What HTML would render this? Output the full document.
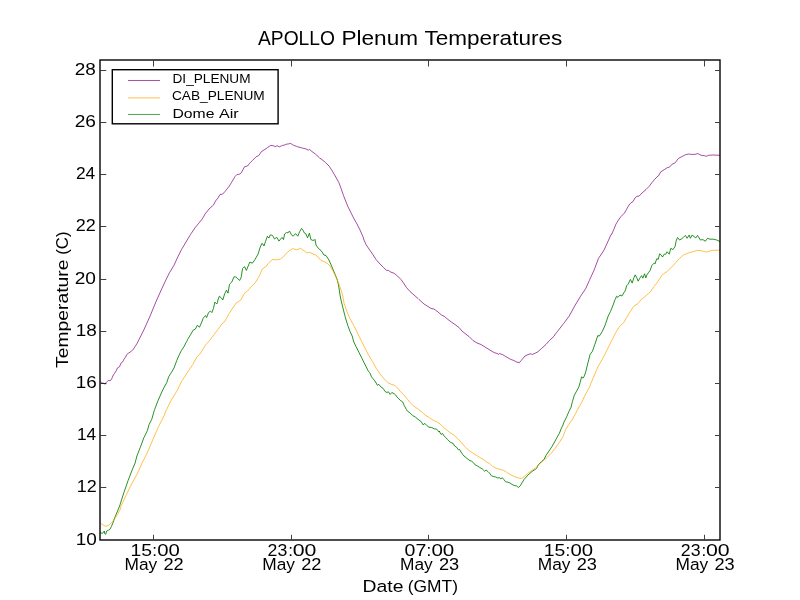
<!DOCTYPE html>
<html><head><meta charset="utf-8"><style>html,body{margin:0;padding:0;background:#fff;width:800px;height:600px;overflow:hidden}svg{display:block;will-change:transform}</style></head>
<body><svg width="800" height="600" viewBox="0 0 800 600"><rect width="800" height="600" fill="#fff"/><defs><clipPath id="c"><rect x="100" y="60" width="620" height="480"/></clipPath></defs><g clip-path="url(#c)" fill="none" stroke-width="0.7" stroke-linejoin="round"><polyline stroke="#008000" stroke-width="0.85" points="99.0,533.0 101.0,533.0 102.7,533.3 104.3,531.0 104.7,533.7 105.7,534.3 106.7,531.0 108.3,530.3 110.0,529.3 111.3,526.7 113.0,522.7 114.3,519.0 116.0,514.7 118.0,510.0 120.0,505.0 120.2,504.1 123.8,492.8 128.1,480.5 132.5,469.1 135.1,463.0 136.9,456.0 140.4,447.2 143.9,437.6 147.4,430.6 149.1,424.5 151.8,419.2 153.5,413.1 154.5,409.8 154.7,409.3 158.0,400.7 162.7,390.0 166.7,382.7 168.7,376.7 171.3,372.7 174.0,368.0 176.7,360.7 178.7,356.0 181.3,350.7 184.0,346.7 186.0,342.7 187.3,340.5 187.5,339.6 190.5,334.8 193.1,330.2 195.4,329.1 197.2,325.4 199.5,327.2 201.8,322.0 203.2,318.2 205.5,315.6 206.6,317.5 208.5,312.6 210.4,311.1 211.9,312.6 213.4,308.5 214.9,302.1 216.8,304.0 217.5,302.5 217.9,300.0 219.4,296.2 221.2,297.8 222.8,300.0 224.6,294.0 226.5,290.2 228.0,293.2 229.5,284.2 231.8,282.0 234.0,276.8 235.5,276.8 237.0,277.9 239.6,280.5 241.1,277.5 242.6,268.5 244.5,266.6 246.4,270.4 249.8,262.1 252.4,263.2 255.0,259.5 258.0,254.2 259.9,248.2 261.8,243.4 262.9,244.1 264.0,246.0 265.5,241.5 267.4,236.2 268.9,238.1 270.4,234.8 272.6,235.5 274.5,238.9 276.8,237.4 279.0,241.1 280.5,239.2 282.0,237.4 283.5,239.6 284.6,234.0 286.5,232.5 288.0,232.9 289.5,231.0 291.4,234.8 293.2,236.2 295.5,233.6 297.8,236.2 299.6,231.8 301.5,228.4 303.0,230.2 304.5,233.2 306.0,234.0 307.5,237.8 309.4,233.2 310.9,239.6 312.8,240.4 314.6,240.0 315.0,239.5 316.0,245.0 318.5,248.5 321.0,250.5 324.0,255.0 326.0,255.5 329.0,260.0 332.0,267.0 334.5,273.0 337.0,279.0 338.5,285.0 340.2,296.0 341.0,300.0 343.2,309.0 345.5,318.0 347.8,325.5 350.0,331.5 352.2,336.0 353.8,342.0 356.0,346.5 359.0,352.5 362.0,358.5 365.0,364.5 368.0,370.5 369.5,372.5 370.0,373.0 371.5,376.8 373.0,378.6 374.9,380.9 377.5,385.4 378.6,384.2 380.9,386.9 383.1,388.4 385.0,391.4 386.9,392.5 388.4,391.8 390.2,394.4 391.8,392.5 394.0,393.6 395.5,394.8 397.0,397.0 398.9,398.9 400.8,400.8 402.2,401.5 402.5,401.7 404.2,405.4 406.2,409.2 407.5,411.2 410.0,412.9 412.5,415.4 415.4,417.1 417.9,419.2 421.2,421.7 423.3,425.0 424.6,423.3 426.7,425.4 428.8,427.1 431.7,427.5 434.2,428.8 436.7,429.2 439.2,432.1 439.2,431.0 440.0,432.5 441.1,434.4 442.6,433.6 444.1,435.9 446.0,437.8 447.5,439.6 449.0,441.1 450.9,442.6 453.1,443.4 454.6,446.0 456.5,447.1 458.4,449.8 459.5,449.4 461.0,452.0 462.5,454.2 464.0,456.0 470.0,460.8 471.5,461.1 473.4,462.6 475.2,464.9 477.5,466.0 479.8,467.5 482.4,469.0 484.6,471.2 486.1,470.1 488.0,471.6 489.5,473.1 491.4,475.8 493.2,476.5 495.5,476.9 497.8,478.0 499.6,477.6 500.8,479.1 502.2,477.6 503.8,479.5 505.6,481.8 507.5,482.1 509.8,482.9 512.0,484.4 514.2,485.5 516.5,485.9 518.4,487.4 520.2,485.9 521.0,484.5 524.0,479.5 528.0,475.0 532.0,471.5 535.0,469.5 536.5,468.5 538.5,464.5 541.5,461.5 544.0,459.5 546.0,455.5 549.0,451.0 552.0,446.5 554.5,442.0 557.0,437.5 559.5,433.0 561.0,429.0 563.0,425.0 563.7,422.7 566.9,416.3 568.8,411.7 571.1,407.1 572.4,401.6 574.3,395.2 576.6,391.1 578.9,386.9 580.2,382.3 581.6,376.8 583.0,378.2 584.4,375.9 585.8,371.5 588.0,362.5 590.2,354.2 592.5,351.2 594.8,344.5 597.8,335.5 599.2,336.2 602.2,331.7 605.2,325.0 608.2,316.0 610.5,311.5 613.5,304.0 615.0,299.5 615.4,299.2 616.5,296.2 618.0,297.4 619.9,295.1 622.1,295.9 624.0,292.5 625.5,290.2 626.6,285.8 628.1,284.2 630.4,279.4 632.2,283.1 633.8,277.9 635.2,274.9 636.8,277.9 638.2,281.2 639.8,278.2 641.6,275.6 642.8,278.2 644.6,273.8 645.8,277.9 646.9,274.9 648.8,272.2 650.2,270.4 651.8,265.5 654.0,263.2 654.5,263.0 655.0,263.8 656.7,258.8 658.3,259.2 659.6,253.8 661.2,255.0 662.5,257.1 664.2,254.2 665.8,254.2 667.1,251.7 669.2,254.2 670.8,248.3 672.9,249.6 675.0,246.7 676.2,240.8 677.5,237.5 679.6,240.0 681.7,238.8 683.3,237.5 685.4,235.4 687.1,238.3 689.2,235.0 690.4,238.3 692.1,235.0 694.2,236.7 695.8,237.9 697.5,235.4 700.4,240.0 702.9,239.6 705.4,241.2 707.5,238.3 710.0,239.2 713.3,239.2 716.7,240.0 719.2,241.2 721.0,241.5"/><polyline stroke="#ffa500" stroke-width="0.7" points="99.0,523.0 100.0,523.0 102.7,524.7 105.7,526.3 108.7,525.3 111.7,522.7 114.7,518.7 117.3,514.7 120.0,510.0 121.0,506.2 122.0,504.1 126.4,494.5 131.6,484.0 136.9,474.4 142.1,463.0 147.4,452.5 152.6,440.2 157.9,428.0 164.9,414.0 165.0,412.5 166.7,409.3 171.3,400.0 176.7,391.3 182.0,380.7 187.3,372.7 192.7,364.7 196.7,357.3 200.0,354.0 205.6,344.9 210.0,340.0 214.5,334.0 219.0,328.0 222.0,323.9 225.0,321.2 229.2,313.4 236.0,303.2 240.8,300.0 244.5,293.2 247.5,291.0 252.0,285.8 255.0,283.1 258.5,277.4 262.5,268.8 265.5,267.0 268.5,263.2 272.2,259.5 275.2,259.9 280.5,259.1 283.5,256.5 287.2,252.4 292.5,248.6 297.0,249.8 300.4,248.2 303.0,250.1 306.8,252.8 309.8,252.4 314.2,254.6 315.0,254.6 317.0,256.0 321.0,260.5 324.0,261.5 328.0,264.0 330.0,266.0 333.0,271.0 336.0,277.0 338.5,283.0 341.0,290.0 342.5,294.5 344.0,303.0 347.0,312.0 350.0,318.7 353.8,325.5 357.5,333.0 361.2,340.5 365.0,348.0 368.8,355.5 372.5,361.5 376.4,368.6 379.8,373.5 383.5,378.2 388.0,382.8 391.0,384.2 394.8,385.4 398.5,389.1 400.0,391.2 403.3,394.2 406.7,398.3 410.0,402.5 413.3,405.8 418.3,409.2 422.5,412.5 425.0,415.0 429.2,417.5 433.3,420.4 436.7,421.7 440.0,423.8 441.5,425.4 445.2,428.8 449.8,432.5 453.5,434.8 458.0,438.9 461.8,443.0 465.5,447.5 470.0,451.2 472.2,452.5 476.0,455.1 479.8,457.4 483.5,459.6 486.9,462.2 489.5,463.4 492.5,466.4 496.2,468.2 500.0,469.4 503.8,470.5 507.5,472.8 511.2,475.0 515.0,476.9 518.8,478.0 521.0,478.4 522.5,477.8 523.0,477.5 527.0,474.0 531.0,471.0 535.0,468.5 539.0,464.5 543.0,461.0 547.0,457.5 551.0,453.5 555.0,448.5 559.0,443.0 563.0,436.5 565.6,429.6 568.8,424.5 572.0,420.0 575.2,414.4 577.9,409.0 581.6,402.5 584.8,395.6 590.0,386.2 590.2,385.0 594.0,376.0 597.8,367.0 602.2,359.5 606.8,350.5 611.2,341.5 615.8,332.5 619.5,326.5 623.8,322.5 628.8,313.8 633.8,306.2 638.0,303.5 641.2,299.6 645.8,295.9 651.0,291.0 654.0,286.5 657.0,282.8 660.0,278.2 662.5,274.6 667.5,271.2 672.5,266.2 675.8,262.5 679.2,258.8 683.3,255.0 687.5,253.3 692.5,251.7 697.5,250.4 701.7,250.8 706.2,252.1 711.7,250.4 719.2,250.2 721.0,250.2"/><polyline stroke="#800080" stroke-width="0.7" points="99.0,381.2 100.0,381.2 101.7,382.9 103.8,383.3 105.4,384.2 106.2,382.5 108.3,380.4 110.4,380.7 111.7,378.8 113.3,375.0 114.6,373.3 116.2,370.8 117.5,367.9 119.6,366.7 120.8,363.3 122.5,362.1 123.5,360.4 124.0,358.8 125.4,357.5 126.7,354.6 128.3,353.3 130.8,351.7 133.3,349.2 135.0,346.7 137.1,343.3 138.8,340.0 143.8,330.0 150.0,316.2 156.2,301.2 161.2,290.0 165.0,281.8 169.5,272.7 174.0,265.2 177.8,257.0 181.5,249.5 186.0,242.0 190.5,234.5 195.0,227.8 198.8,223.2 201.8,219.5 204.0,216.0 205.0,214.0 209.0,209.0 213.5,205.0 215.5,201.0 218.0,198.0 220.0,194.5 222.5,194.2 225.0,191.5 229.0,186.5 231.5,182.5 235.0,176.5 237.0,174.5 239.5,174.2 241.5,172.5 244.5,166.8 247.5,166.0 249.5,163.5 250.0,162.9 252.6,160.3 256.1,156.8 258.8,155.5 261.4,151.6 264.9,149.4 267.5,147.6 270.6,145.4 273.2,145.7 275.4,146.6 277.1,145.7 279.3,146.9 282.4,145.4 285.0,145.0 285.9,144.3 288.5,143.9 290.7,143.4 293.3,145.2 296.4,146.3 299.0,147.2 302.5,148.1 306.0,148.9 308.2,150.2 309.5,149.4 312.1,151.6 315.6,154.2 319.6,157.9 320.0,158.5 321.0,158.8 325.5,162.5 329.2,166.2 332.2,170.8 335.2,176.0 339.0,182.8 341.2,188.8 343.5,195.5 345.8,201.5 348.0,206.8 351.0,212.8 354.0,218.8 357.0,224.0 360.0,230.0 363.0,236.8 364.0,240.0 366.0,244.5 369.0,249.0 372.5,254.0 376.0,259.5 380.0,264.0 383.5,267.5 386.5,270.3 388.5,270.5 391.0,272.2 394.0,273.2 397.5,276.0 401.0,279.5 403.5,283.0 406.5,287.5 410.0,291.5 414.0,295.0 418.0,298.5 419.0,299.5 424.0,304.0 428.0,306.5 431.0,308.5 434.0,309.0 438.0,312.0 441.5,315.0 444.5,316.5 448.0,319.5 452.0,322.5 455.0,324.5 459.0,327.5 462.0,331.0 465.0,333.5 469.0,336.5 473.0,340.5 477.0,343.0 481.0,344.5 485.0,347.0 489.0,349.5 494.0,352.5 495.0,352.9 496.9,353.4 498.8,354.4 499.5,353.6 502.5,354.6 505.5,356.4 508.5,358.2 510.8,359.4 513.8,360.5 516.8,362.1 519.4,362.6 521.2,360.5 525.0,356.0 528.0,354.6 530.2,353.8 532.5,354.4 535.5,353.0 537.8,351.9 541.5,348.5 546.0,344.4 549.8,340.2 554.2,336.1 555.0,334.5 557.3,331.7 563.7,323.4 569.2,316.1 574.7,306.0 580.2,296.8 585.7,288.6 589.4,280.4 594.0,270.3 598.5,258.4 604.0,250.1 608.6,240.1 611.0,234.5 611.5,234.5 614.0,229.0 616.0,224.0 618.5,220.0 621.0,216.5 624.5,213.0 626.5,209.5 629.0,205.0 631.0,202.8 633.0,201.5 635.0,198.0 637.0,196.2 639.0,196.2 642.0,193.0 646.0,189.5 649.0,186.5 652.0,182.5 654.5,179.5 658.0,176.0 658.5,175.8 660.8,171.8 664.1,169.7 667.4,167.6 669.4,167.2 671.9,164.3 674.8,163.1 676.5,161.0 678.5,158.3 681.4,156.9 685.5,154.7 688.8,154.0 691.3,154.4 694.6,154.4 697.9,153.6 701.2,155.3 704.5,155.7 706.2,156.3 708.6,155.3 712.8,155.0 719.4,155.3 721.0,155.3"/></g><g stroke="#000" stroke-width="0.75"><line x1="100.7" y1="487.50" x2="106.3" y2="487.50"/><line x1="715" y1="487.50" x2="719.3" y2="487.50"/><line x1="100.7" y1="435.50" x2="106.3" y2="435.50"/><line x1="715" y1="435.50" x2="719.3" y2="435.50"/><line x1="100.7" y1="383.50" x2="106.3" y2="383.50"/><line x1="715" y1="383.50" x2="719.3" y2="383.50"/><line x1="100.7" y1="331.50" x2="106.3" y2="331.50"/><line x1="715" y1="331.50" x2="719.3" y2="331.50"/><line x1="100.7" y1="279.50" x2="106.3" y2="279.50"/><line x1="715" y1="279.50" x2="719.3" y2="279.50"/><line x1="100.7" y1="226.50" x2="106.3" y2="226.50"/><line x1="715" y1="226.50" x2="719.3" y2="226.50"/><line x1="100.7" y1="174.50" x2="106.3" y2="174.50"/><line x1="715" y1="174.50" x2="719.3" y2="174.50"/><line x1="100.7" y1="122.50" x2="106.3" y2="122.50"/><line x1="715" y1="122.50" x2="719.3" y2="122.50"/><line x1="100.7" y1="70.50" x2="106.3" y2="70.50"/><line x1="715" y1="70.50" x2="719.3" y2="70.50"/><line x1="153.50" y1="539.3" x2="153.50" y2="534.8"/><line x1="153.50" y1="60.7" x2="153.50" y2="66.5"/><line x1="291.50" y1="539.3" x2="291.50" y2="534.8"/><line x1="291.50" y1="60.7" x2="291.50" y2="66.5"/><line x1="428.50" y1="539.3" x2="428.50" y2="534.8"/><line x1="428.50" y1="60.7" x2="428.50" y2="66.5"/><line x1="566.50" y1="539.3" x2="566.50" y2="534.8"/><line x1="566.50" y1="60.7" x2="566.50" y2="66.5"/><line x1="704.50" y1="539.3" x2="704.50" y2="534.8"/><line x1="704.50" y1="60.7" x2="704.50" y2="66.5"/></g><rect x="100" y="60" width="620" height="480" fill="none" stroke="#000" stroke-width="1.39"/><rect x="112.3" y="69.7" width="165.8" height="54.1" fill="#fff" stroke="#000" stroke-width="1.4"/><line x1="128" y1="80.47" x2="160" y2="80.47" stroke="#800080" stroke-width="0.7"/><line x1="128" y1="97.9" x2="160" y2="97.9" stroke="#ffa500" stroke-width="0.7"/><line x1="128" y1="114.45" x2="160" y2="114.45" stroke="#008000" stroke-width="0.7"/><g font-family='"Liberation Sans", sans-serif' fill="#000"><text transform="translate(258.00,45.00) scale(0.9383,1)" font-size="20.5">APOLLO</text><text transform="translate(341.39,45.00) scale(1.1030,1)" font-size="20.5">Plenum</text><text transform="translate(424.40,45.00) scale(1.1008,1)" font-size="20.5">Temperatures</text><text transform="translate(75.78,544.95) scale(1.1176,1)" font-size="17">10</text><text transform="translate(76.84,491.95) scale(1.0588,1)" font-size="17">12</text><text transform="translate(76.88,439.95) scale(1.0194,1)" font-size="17">14</text><text transform="translate(75.79,387.95) scale(1.1118,1)" font-size="17">16</text><text transform="translate(75.78,335.95) scale(1.1176,1)" font-size="17">18</text><text transform="translate(74.68,283.95) scale(1.1235,1)" font-size="17">20</text><text transform="translate(75.84,230.95) scale(1.0588,1)" font-size="17">22</text><text transform="translate(75.88,178.95) scale(1.0222,1)" font-size="17">24</text><text transform="translate(74.68,126.95) scale(1.1235,1)" font-size="17">26</text><text transform="translate(74.63,74.95) scale(1.1176,1)" font-size="17">28</text><text transform="translate(130.46,556.00) scale(1.1412,1)" font-size="17">15</text><text transform="translate(152.30,556.00) scale(1.0000,1)" font-size="17">:</text><text transform="translate(157.31,556.00) scale(1.1941,1)" font-size="17">00</text><text transform="translate(124.48,569.70) scale(1.0194,1)" font-size="17">May</text><text transform="translate(163.43,569.70) scale(1.0706,1)" font-size="17">22</text><text transform="translate(267.56,556.00) scale(1.0412,1)" font-size="17">23</text><text transform="translate(288.15,556.00) scale(1.0000,1)" font-size="17">:</text><text transform="translate(292.65,556.00) scale(1.2529,1)" font-size="17">00</text><text transform="translate(262.23,569.70) scale(1.0194,1)" font-size="17">May</text><text transform="translate(301.18,569.70) scale(1.0706,1)" font-size="17">22</text><text transform="translate(404.55,556.00) scale(1.1471,1)" font-size="17">07</text><text transform="translate(426.50,556.00) scale(1.0000,1)" font-size="17">:</text><text transform="translate(431.39,556.00) scale(1.2118,1)" font-size="17">00</text><text transform="translate(399.98,569.70) scale(1.0194,1)" font-size="17">May</text><text transform="translate(438.93,569.70) scale(1.0706,1)" font-size="17">23</text><text transform="translate(543.71,556.00) scale(1.1412,1)" font-size="17">15</text><text transform="translate(565.55,556.00) scale(1.0000,1)" font-size="17">:</text><text transform="translate(570.56,556.00) scale(1.1941,1)" font-size="17">00</text><text transform="translate(537.73,569.70) scale(1.0194,1)" font-size="17">May</text><text transform="translate(576.68,569.70) scale(1.0706,1)" font-size="17">23</text><text transform="translate(680.81,556.00) scale(1.0412,1)" font-size="17">23</text><text transform="translate(701.40,556.00) scale(1.0000,1)" font-size="17">:</text><text transform="translate(705.90,556.00) scale(1.2529,1)" font-size="17">00</text><text transform="translate(675.48,569.70) scale(1.0194,1)" font-size="17">May</text><text transform="translate(714.43,569.70) scale(1.0706,1)" font-size="17">23</text><text transform="translate(362.61,591.70) scale(1.1397,1)" font-size="17">Date</text><text transform="translate(407.73,591.70) scale(1.0245,1)" font-size="17">(GMT)</text><text transform="translate(67.90,367.90) rotate(-90) scale(1.1358,1)" font-size="17">Temperature</text><text transform="translate(67.90,254.73) rotate(-90) scale(0.9841,1)" font-size="17">(C)</text><text transform="translate(172.50,83.00) scale(0.9961,1)" font-size="13.7">DI_PLENUM</text><text transform="translate(171.90,99.80) scale(1.0011,1)" font-size="13.7">CAB_PLENUM</text><text transform="translate(172.45,117.60) scale(1.1514,1)" font-size="13.7">Dome</text><text transform="translate(218.90,117.60) scale(1.1765,1)" font-size="13.7">Air</text></g></svg></body></html>
